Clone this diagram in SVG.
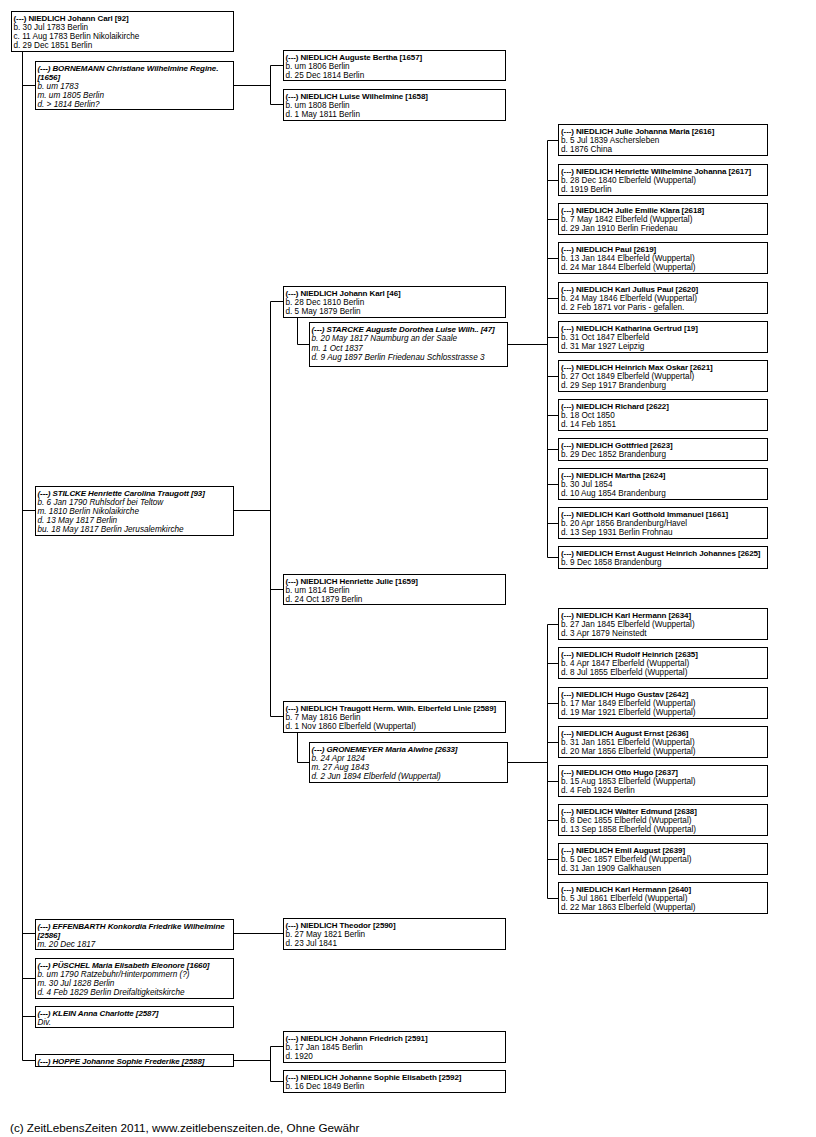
<svg xmlns="http://www.w3.org/2000/svg" width="816" height="1137" viewBox="0 0 816 1137">
<style>
.box{fill:#fff;stroke:#000;stroke-width:1}
.c{fill:none;stroke:#000;stroke-width:1}
text{font-family:"Liberation Sans",Arial,sans-serif;font-size:8.2px;fill:#000}
.b{font-weight:bold;font-size:8px;letter-spacing:-0.1px}
.i{font-style:italic}
.f{font-size:11.7px}
</style>
<rect width="816" height="1137" fill="#fff"/>
<g id="connectors" class="c">
<path d="M22.5,51.5V1060.5M22.5,85.5H35.5M22.5,510.5H35.5M22.5,933.5H35.5M22.5,978.5H35.5M22.5,1016.5H35.5M22.5,1060.5H35.5"/>
<path d="M233.5,85.5H270.5M270.5,65.5V104.5M270.5,65.5H283.5M270.5,104.5H283.5"/>
<path d="M233.5,510.5H270.5M270.5,301.5V716.5M270.5,301.5H283.5M270.5,589.5H283.5M270.5,716.5H283.5"/>
<path d="M233.5,933.5H283.5"/>
<path d="M233.5,1060.5H270.5M270.5,1046.5V1081.5M270.5,1046.5H283.5M270.5,1081.5H283.5"/>
<path d="M297.5,317.5V344.5H309.5M507.5,344.5H547.5M547.5,140.5V557.5"/>
<path d="M547.5,140.5H558.5M547.5,180.5H558.5M547.5,219.5H558.5M547.5,258.5H558.5M547.5,298.5H558.5M547.5,337.5H558.5M547.5,376.5H558.5M547.5,415.5H558.5M547.5,449.5H558.5M547.5,484.5H558.5M547.5,523.5H558.5M547.5,557.5H558.5"/>
<path d="M297.5,732.5V762.5H309.5M507.5,762.5H547.5M547.5,624.5V898.5"/>
<path d="M547.5,624.5H558.5M547.5,663.5H558.5M547.5,703.5H558.5M547.5,742.5H558.5M547.5,781.5H558.5M547.5,820.5H558.5M547.5,859.5H558.5M547.5,898.5H558.5"/>
</g>

<g id="p92"><rect class="box" x="11.5" y="11.5" width="222" height="40"/>
<text x="13.5" y="20.5"><tspan class="b">(---) NIEDLICH Johann Carl [92]</tspan><tspan x="13.5" dy="9">b. 30 Jul 1783 Berlin</tspan><tspan x="13.5" dy="9">c. 11 Aug 1783 Berlin Nikolaikirche</tspan><tspan x="13.5" dy="9">d. 29 Dec 1851 Berlin</tspan></text></g>

<g id="p1656"><rect class="box" x="35.5" y="61.5" width="198" height="48"/>
<text class="i" x="37.5" y="70.5"><tspan class="b">(---) BORNEMANN Christiane Wilhelmine Regine.</tspan><tspan class="b" x="37.5" dy="9">[1656]</tspan><tspan x="37.5" dy="9">b. um 1783</tspan><tspan x="37.5" dy="9">m. um 1805 Berlin</tspan><tspan x="37.5" dy="9">d. &gt; 1814 Berlin?</tspan></text></g>

<g id="p1657"><rect class="box" x="283.5" y="50.5" width="222" height="30"/>
<text x="285.5" y="59.5"><tspan class="b">(---) NIEDLICH Auguste Bertha [1657]</tspan><tspan x="285.5" dy="9">b. um 1806 Berlin</tspan><tspan x="285.5" dy="9">d. 25 Dec 1814 Berlin</tspan></text></g>

<g id="p1658"><rect class="box" x="283.5" y="89.5" width="222" height="31"/>
<text x="285.5" y="98.5"><tspan class="b">(---) NIEDLICH Luise Wilhelmine [1658]</tspan><tspan x="285.5" dy="9">b. um 1808 Berlin</tspan><tspan x="285.5" dy="9">d. 1 May 1811 Berlin</tspan></text></g>

<g id="p46"><rect class="box" x="283.5" y="286.5" width="222" height="31"/>
<text x="285.5" y="295.5"><tspan class="b">(---) NIEDLICH Johann Karl [46]</tspan><tspan x="285.5" dy="9">b. 28 Dec 1810 Berlin</tspan><tspan x="285.5" dy="9">d. 5 May 1879 Berlin</tspan></text></g>

<g id="p47"><rect class="box" x="309.5" y="322.5" width="198" height="44"/>
<text class="i" x="311.5" y="331.5"><tspan class="b">(---) STARCKE Auguste Dorothea Luise Wilh.. [47]</tspan><tspan x="311.5" dy="9.5">b. 20 May 1817 Naumburg an der Saale</tspan><tspan x="311.5" dy="9.5">m. 1 Oct 1837</tspan><tspan x="311.5" dy="9.5">d. 9 Aug 1897 Berlin Friedenau Schlosstrasse 3</tspan></text></g>

<g id="p2616"><rect class="box" x="558.5" y="124.5" width="209" height="31"/>
<text x="561" y="133.5"><tspan class="b">(---) NIEDLICH Julie Johanna Maria [2616]</tspan><tspan x="561" dy="9">b. 5 Jul 1839 Aschersleben</tspan><tspan x="561" dy="9">d. 1876 China</tspan></text></g>

<g id="p2617"><rect class="box" x="558.5" y="164.5" width="209" height="31"/>
<text x="561" y="173.5"><tspan class="b">(---) NIEDLICH Henriette Wilhelmine Johanna [2617]</tspan><tspan x="561" dy="9">b. 28 Dec 1840 Elberfeld (Wuppertal)</tspan><tspan x="561" dy="9">d. 1919 Berlin</tspan></text></g>

<g id="p2618"><rect class="box" x="558.5" y="203.5" width="209" height="31"/>
<text x="561" y="212.5"><tspan class="b">(---) NIEDLICH Julie Emilie Klara [2618]</tspan><tspan x="561" dy="9">b. 7 May 1842 Elberfeld (Wuppertal)</tspan><tspan x="561" dy="9">d. 29 Jan 1910 Berlin Friedenau</tspan></text></g>

<g id="p2619"><rect class="box" x="558.5" y="242.5" width="209" height="31"/>
<text x="561" y="251.5"><tspan class="b">(---) NIEDLICH Paul [2619]</tspan><tspan x="561" dy="9">b. 13 Jan 1844 Elberfeld (Wuppertal)</tspan><tspan x="561" dy="9">d. 24 Mar 1844 Elberfeld (Wuppertal)</tspan></text></g>

<g id="p2620"><rect class="box" x="558.5" y="282.5" width="209" height="31"/>
<text x="561" y="291.5"><tspan class="b">(---) NIEDLICH Karl Julius Paul [2620]</tspan><tspan x="561" dy="9">b. 24 May 1846 Elberfeld (Wuppertal)</tspan><tspan x="561" dy="9">d. 2 Feb 1871 vor Paris - gefallen.</tspan></text></g>

<g id="p19"><rect class="box" x="558.5" y="321.5" width="209" height="31"/>
<text x="561" y="330.5"><tspan class="b">(---) NIEDLICH Katharina Gertrud [19]</tspan><tspan x="561" dy="9">b. 31 Oct 1847 Elberfeld</tspan><tspan x="561" dy="9">d. 31 Mar 1927 Leipzig</tspan></text></g>

<g id="p2621"><rect class="box" x="558.5" y="360.5" width="209" height="31"/>
<text x="561" y="369.5"><tspan class="b">(---) NIEDLICH Heinrich Max Oskar [2621]</tspan><tspan x="561" dy="9">b. 27 Oct 1849 Elberfeld (Wuppertal)</tspan><tspan x="561" dy="9">d. 29 Sep 1917 Brandenburg</tspan></text></g>

<g id="p2622"><rect class="box" x="558.5" y="399.5" width="209" height="31"/>
<text x="561" y="408.5"><tspan class="b">(---) NIEDLICH Richard [2622]</tspan><tspan x="561" dy="9">b. 18 Oct 1850</tspan><tspan x="561" dy="9">d. 14 Feb 1851</tspan></text></g>

<g id="p2623"><rect class="box" x="558.5" y="438.5" width="209" height="22"/>
<text x="561" y="447.5"><tspan class="b">(---) NIEDLICH Gottfried [2623]</tspan><tspan x="561" dy="9">b. 29 Dec 1852 Brandenburg</tspan></text></g>

<g id="p2624"><rect class="box" x="558.5" y="468.5" width="209" height="31"/>
<text x="561" y="477.5"><tspan class="b">(---) NIEDLICH Martha [2624]</tspan><tspan x="561" dy="9">b. 30 Jul 1854</tspan><tspan x="561" dy="9">d. 10 Aug 1854 Brandenburg</tspan></text></g>

<g id="p1661"><rect class="box" x="558.5" y="507.5" width="209" height="31"/>
<text x="561" y="516.5"><tspan class="b">(---) NIEDLICH Karl Gotthold Immanuel [1661]</tspan><tspan x="561" dy="9">b. 20 Apr 1856 Brandenburg/Havel</tspan><tspan x="561" dy="9">d. 13 Sep 1931 Berlin Frohnau</tspan></text></g>

<g id="p2625"><rect class="box" x="558.5" y="546.5" width="209" height="22"/>
<text x="561" y="555.5"><tspan class="b">(---) NIEDLICH Ernst August Heinrich Johannes [2625]</tspan><tspan x="561" dy="9">b. 9 Dec 1858 Brandenburg</tspan></text></g>

<g id="p93"><rect class="box" x="35.5" y="486.5" width="198" height="49"/>
<text class="i" x="37.5" y="495.5"><tspan class="b">(---) STILCKE Henriette Carolina Traugott [93]</tspan><tspan x="37.5" dy="9">b. 6 Jan 1790 Ruhlsdorf bei Teltow</tspan><tspan x="37.5" dy="9">m. 1810 Berlin Nikolaikirche</tspan><tspan x="37.5" dy="9">d. 13 May 1817 Berlin</tspan><tspan x="37.5" dy="9">bu. 18 May 1817 Berlin Jerusalemkirche</tspan></text></g>

<g id="p1659"><rect class="box" x="283.5" y="574.5" width="222" height="30"/>
<text x="285.5" y="583.5"><tspan class="b">(---) NIEDLICH Henriette Julie [1659]</tspan><tspan x="285.5" dy="9">b. um 1814 Berlin</tspan><tspan x="285.5" dy="9">d. 24 Oct 1879 Berlin</tspan></text></g>

<g id="p2589"><rect class="box" x="283.5" y="701.5" width="222" height="31"/>
<text x="285.5" y="710.5"><tspan class="b">(---) NIEDLICH Traugott Herm. Wilh. Elberfeld Linie [2589]</tspan><tspan x="285.5" dy="9">b. 7 May 1816 Berlin</tspan><tspan x="285.5" dy="9">d. 1 Nov 1860 Elberfeld (Wuppertal)</tspan></text></g>

<g id="p2633"><rect class="box" x="309.5" y="742.5" width="198" height="40"/>
<text class="i" x="311.5" y="751.5"><tspan class="b">(---) GRONEMEYER Maria Alwine [2633]</tspan><tspan x="311.5" dy="9">b. 24 Apr 1824</tspan><tspan x="311.5" dy="9">m. 27 Aug 1843</tspan><tspan x="311.5" dy="9">d. 2 Jun 1894 Elberfeld (Wuppertal)</tspan></text></g>

<g id="p2634"><rect class="box" x="558.5" y="608.5" width="209" height="31"/>
<text x="561" y="617.5"><tspan class="b">(---) NIEDLICH Karl Hermann [2634]</tspan><tspan x="561" dy="9">b. 27 Jan 1845 Elberfeld (Wuppertal)</tspan><tspan x="561" dy="9">d. 3 Apr 1879 Neinstedt</tspan></text></g>

<g id="p2635"><rect class="box" x="558.5" y="647.5" width="209" height="31"/>
<text x="561" y="656.5"><tspan class="b">(---) NIEDLICH Rudolf Heinrich [2635]</tspan><tspan x="561" dy="9">b. 4 Apr 1847 Elberfeld (Wuppertal)</tspan><tspan x="561" dy="9">d. 8 Jul 1855 Elberfeld (Wuppertal)</tspan></text></g>

<g id="p2642"><rect class="box" x="558.5" y="687.5" width="209" height="31"/>
<text x="561" y="696.5"><tspan class="b">(---) NIEDLICH Hugo Gustav [2642]</tspan><tspan x="561" dy="9">b. 17 Mar 1849 Elberfeld (Wuppertal)</tspan><tspan x="561" dy="9">d. 19 Mar 1921 Elberfeld (Wuppertal)</tspan></text></g>

<g id="p2636"><rect class="box" x="558.5" y="726.5" width="209" height="31"/>
<text x="561" y="735.5"><tspan class="b">(---) NIEDLICH August Ernst [2636]</tspan><tspan x="561" dy="9">b. 31 Jan 1851 Elberfeld (Wuppertal)</tspan><tspan x="561" dy="9">d. 20 Mar 1856 Elberfeld (Wuppertal)</tspan></text></g>

<g id="p2637"><rect class="box" x="558.5" y="765.5" width="209" height="31"/>
<text x="561" y="774.5"><tspan class="b">(---) NIEDLICH Otto Hugo [2637]</tspan><tspan x="561" dy="9">b. 15 Aug 1853 Elberfeld (Wuppertal)</tspan><tspan x="561" dy="9">d. 4 Feb 1924 Berlin</tspan></text></g>

<g id="p2638"><rect class="box" x="558.5" y="804.5" width="209" height="31"/>
<text x="561" y="813.5"><tspan class="b">(---) NIEDLICH Walter Edmund [2638]</tspan><tspan x="561" dy="9">b. 8 Dec 1855 Elberfeld (Wuppertal)</tspan><tspan x="561" dy="9">d. 13 Sep 1858 Elberfeld (Wuppertal)</tspan></text></g>

<g id="p2639"><rect class="box" x="558.5" y="843.5" width="209" height="31"/>
<text x="561" y="852.5"><tspan class="b">(---) NIEDLICH Emil August [2639]</tspan><tspan x="561" dy="9">b. 5 Dec 1857 Elberfeld (Wuppertal)</tspan><tspan x="561" dy="9">d. 31 Jan 1909 Galkhausen</tspan></text></g>

<g id="p2640"><rect class="box" x="558.5" y="882.5" width="209" height="31"/>
<text x="561" y="891.5"><tspan class="b">(---) NIEDLICH Karl Hermann [2640]</tspan><tspan x="561" dy="9">b. 5 Jul 1861 Elberfeld (Wuppertal)</tspan><tspan x="561" dy="9">d. 22 Mar 1863 Elberfeld (Wuppertal)</tspan></text></g>

<g id="p2586"><rect class="box" x="35.5" y="919.5" width="198" height="30"/>
<text class="i" x="37.5" y="928.5"><tspan class="b">(---) EFFENBARTH Konkordia Friedrike Wilhelmine</tspan><tspan class="b" x="37.5" dy="9">[2586]</tspan><tspan x="37.5" dy="9">m. 20 Dec 1817</tspan></text></g>

<g id="p2590"><rect class="box" x="283.5" y="918.5" width="222" height="31"/>
<text x="285.5" y="927.5"><tspan class="b">(---) NIEDLICH Theodor [2590]</tspan><tspan x="285.5" dy="9">b. 27 May 1821 Berlin</tspan><tspan x="285.5" dy="9">d. 23 Jul 1841</tspan></text></g>

<g id="p1660"><rect class="box" x="35.5" y="958.5" width="198" height="40"/>
<text class="i" x="37.5" y="967.5"><tspan class="b">(---) PÜSCHEL Maria Elisabeth Eleonore [1660]</tspan><tspan x="37.5" dy="9">b. um 1790 Ratzebuhr/Hinterpommern (?)</tspan><tspan x="37.5" dy="9">m. 30 Jul 1828 Berlin</tspan><tspan x="37.5" dy="9">d. 4 Feb 1829 Berlin Dreifaltigkeitskirche</tspan></text></g>

<g id="p2587"><rect class="box" x="35.5" y="1006.5" width="198" height="21"/>
<text class="i" x="37.5" y="1015.5"><tspan class="b">(---) KLEIN Anna Charlotte [2587]</tspan><tspan x="37.5" dy="9">Div.</tspan></text></g>

<g id="p2588"><rect class="box" x="35.5" y="1054.5" width="198" height="12"/>
<text class="i" x="37.5" y="1063.5"><tspan class="b">(---) HOPPE Johanne Sophie Frederike [2588]</tspan></text></g>

<g id="p2591"><rect class="box" x="283.5" y="1031.5" width="222" height="31"/>
<text x="285.5" y="1040.5"><tspan class="b">(---) NIEDLICH Johann Friedrich [2591]</tspan><tspan x="285.5" dy="9">b. 17 Jan 1845 Berlin</tspan><tspan x="285.5" dy="9">d. 1920</tspan></text></g>

<g id="p2592"><rect class="box" x="283.5" y="1070.5" width="222" height="22"/>
<text x="285.5" y="1079.5"><tspan class="b">(---) NIEDLICH Johanne Sophie Elisabeth [2592]</tspan><tspan x="285.5" dy="9">b. 16 Dec 1849 Berlin</tspan></text></g>

<text class="f" x="10" y="1132">(c) ZeitLebensZeiten 2011, www.zeitlebenszeiten.de, Ohne Gewähr</text>
</svg>
